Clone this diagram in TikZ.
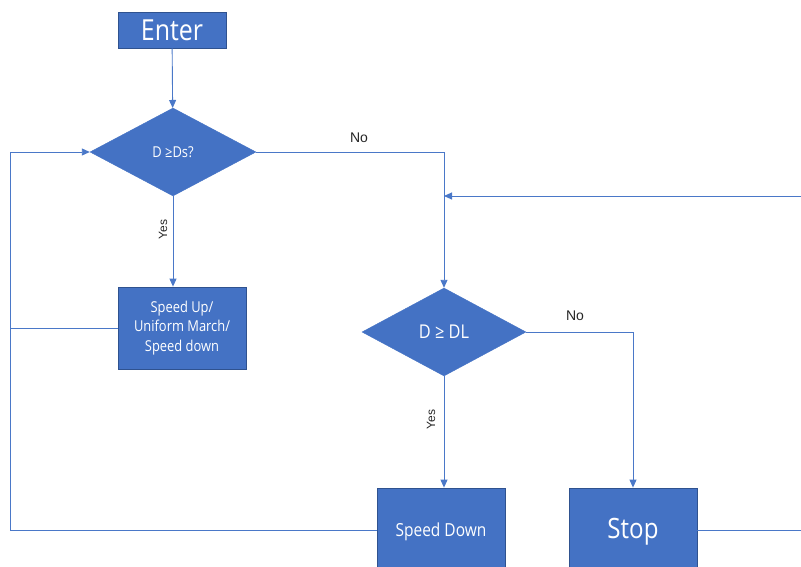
\documentclass[tikz,border=0pt]{standalone}
\usepackage{fontspec}
\setmainfont{Liberation Sans}
\newfontfamily\boxfont{Open Sans}[FakeStretch=0.86]
\usetikzlibrary{shapes.geometric,arrows.meta}
\definecolor{fillblue}{HTML}{4472C4}
\definecolor{edgeblue}{HTML}{2F528F}
\definecolor{lineblue}{HTML}{4A78C8}
\tikzset{
  boxnode/.style={draw=edgeblue, line width=0.8pt, fill=fillblue, text=white, inner sep=0pt, align=center, font=\boxfont},
  decision/.style={diamond, draw=fillblue, fill=fillblue, text=white, inner sep=0pt, font=\boxfont},
  conn/.style={draw=lineblue, line width=0.9pt},
  arr/.style={conn, -{Triangle[length=8pt,width=7pt]}},
  lab/.style={text=black!85, font=\fontsize{14}{16}\selectfont, inner sep=0pt},
}
\begin{document}
\begin{tikzpicture}[x=1pt,y=-1pt]
\useasboundingbox (0,0) rectangle (801,567);
\node[boxnode, minimum width=108pt, minimum height=36pt, font=\boxfont\fontsize{29}{32}\selectfont] (enter) at (172,30) {Enter};
\node[decision, minimum width=166pt, minimum height=88pt, font=\boxfont\fontsize{15}{17}\selectfont] (d1) at (173,152) {D ≥Ds?};
\node[boxnode, minimum width=128pt, minimum height=82pt, font=\boxfont\fontsize{15}{19.5}\selectfont] (b1) at (182,328) {Speed Up/\\Uniform March/\\Speed down};
\node[decision, minimum width=164pt, minimum height=88pt, font=\boxfont\fontsize{19}{21}\selectfont] (d2) at (444,332) {D ≥ DL};
\node[boxnode, minimum width=128pt, minimum height=88pt, font=\boxfont\fontsize{18}{20}\selectfont] (sd) at (441,532) {Speed Down};
\node[boxnode, minimum width=128pt, minimum height=88pt, font=\boxfont\fontsize{28}{30}\selectfont] (stop) at (633,532) {Stop};
\coordinate (lb) at (10,530);
\coordinate (lm) at (10,328);
\coordinate (rb) at (806,530);
\coordinate (join) at (444,196);

\draw[arr] (enter) -- (d1);
\draw[arr] (d1.south) -- node[lab, rotate=90, font=\fontsize{12}{14}\selectfont, yshift=10pt, pos=0.37]{Yes} (d1.south |- b1.north);
\draw[arr] (d1.east) -| (d2.north);
\node[lab] (no1) at (359,138) {No};
\draw[arr] (d2.east) -| (stop.north);
\node[lab] (no2) at (575,316) {No};
\draw[arr] (d2.south) -- node[lab, rotate=90, font=\fontsize{12}{14}\selectfont, yshift=13pt, pos=0.39]{Yes} (d2.south |- sd.north);
\draw[arr] (sd.west |- lb) -- (lb) |- (d1.west);
\draw[conn] (b1.west) -- (lm);
\draw[arr] (stop.east |- rb) -- (rb) |- (join);
\end{tikzpicture}
\end{document}
